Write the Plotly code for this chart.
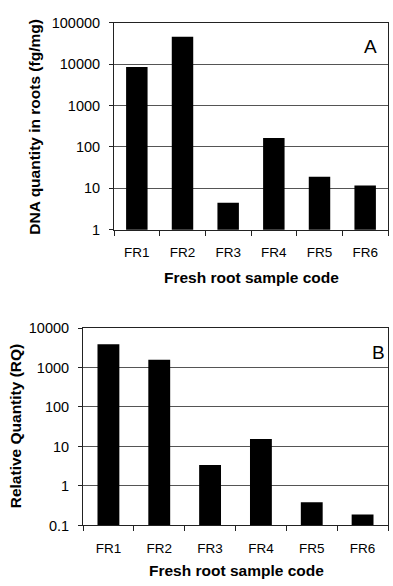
import plotly.graph_objects as go

categories = ["FR1", "FR2", "FR3", "FR4", "FR5", "FR6"]
dna_quantity = [8500, 45700, 4.5, 163, 19, 11.7]
relative_quantity = [3900, 1570, 3.4, 15.5, 0.386, 0.19]
ticks_a = [1, 10, 100, 1000, 10000, 100000]
ticks_b = [0.1, 1, 10, 100, 1000, 10000]
ticktext_a = ["1", "10", "100", "1000", "10000", "100000"]
ticktext_b = ["0.1", "1", "10", "100", "1000", "10000"]

W, H = 393, 586
FONT = "Liberation Sans, Arial, sans-serif"

def px_x(v):
    return v / W

def px_y(v):
    return 1 - v / H

fig = go.Figure()
fig.add_trace(go.Bar(x=categories, y=dna_quantity, marker_color="black",
                     marker_line_width=0, width=0.47, xaxis="x", yaxis="y"))
fig.add_trace(go.Bar(x=categories, y=relative_quantity, marker_color="black",
                     marker_line_width=0, width=0.43, xaxis="x2", yaxis="y2"))

xcommon = dict(type="category", showline=True, linecolor="#222", linewidth=1,
               mirror=True, ticks="outside", tickson="boundaries", ticklen=5,
               tickcolor="#222", showgrid=False, tickfont=dict(family=FONT, size=13.5, color="black"),
               ticklabelstandoff=10, fixedrange=True)
ycommon = dict(type="log", showline=True, linecolor="#222", linewidth=1, mirror=True,
               ticks="outside", ticklen=4, tickcolor="#222", showgrid=True,
               gridcolor="#555", gridwidth=1, tickfont=dict(family=FONT, size=14.5, color="black"),
               ticklabelstandoff=6, zeroline=False)

TITLE = dict(family=FONT, size=15.5, color="black")

fig.update_layout(
    width=W, height=H,
    margin=dict(l=0, r=0, t=0, b=0),
    paper_bgcolor="white", plot_bgcolor="white",
    showlegend=False,
    xaxis=dict(xcommon, domain=[px_x(114), px_x(388)], anchor="y"),
    yaxis=dict(ycommon, domain=[px_y(228), px_y(15)], anchor="x", range=[0, 5],
               tickvals=ticks_a, ticktext=ticktext_a),
    xaxis2=dict(xcommon, domain=[px_x(83), px_x(388)], anchor="y2"),
    yaxis2=dict(ycommon, domain=[px_y(532), px_y(329)], anchor="x2", range=[-1, 4],
                tickvals=ticks_b, ticktext=ticktext_b),
    annotations=[
        dict(text="<b>Fresh root sample code</b>", x=px_x(251), y=px_y(277), xref="paper", yref="paper",
             showarrow=False, font=TITLE, xanchor="center", yanchor="middle"),
        dict(text="<b>DNA quantity in roots (fg/mg)</b>", x=px_x(35), y=px_y(122), xref="paper", yref="paper",
             showarrow=False, textangle=-90, font=TITLE, xanchor="center", yanchor="middle"),
        dict(text="A", x=px_x(370), y=px_y(40), xref="paper", yref="paper", showarrow=False,
             font=dict(family=FONT, size=19, color="black"), xanchor="center", yanchor="middle"),
        dict(text="<b>Fresh root sample code</b>", x=px_x(236), y=px_y(578), xref="paper", yref="paper",
             showarrow=False, font=TITLE, xanchor="center", yanchor="middle"),
        dict(text="<b>Relative Quantity (RQ)</b>", x=px_x(15), y=px_y(430), xref="paper", yref="paper",
             showarrow=False, textangle=-90, font=TITLE, xanchor="center", yanchor="middle"),
        dict(text="B", x=px_x(378), y=px_y(354), xref="paper", yref="paper", showarrow=False,
             font=dict(family=FONT, size=19, color="black"), xanchor="center", yanchor="middle"),
    ],
)

fig.write_html("out.html")
